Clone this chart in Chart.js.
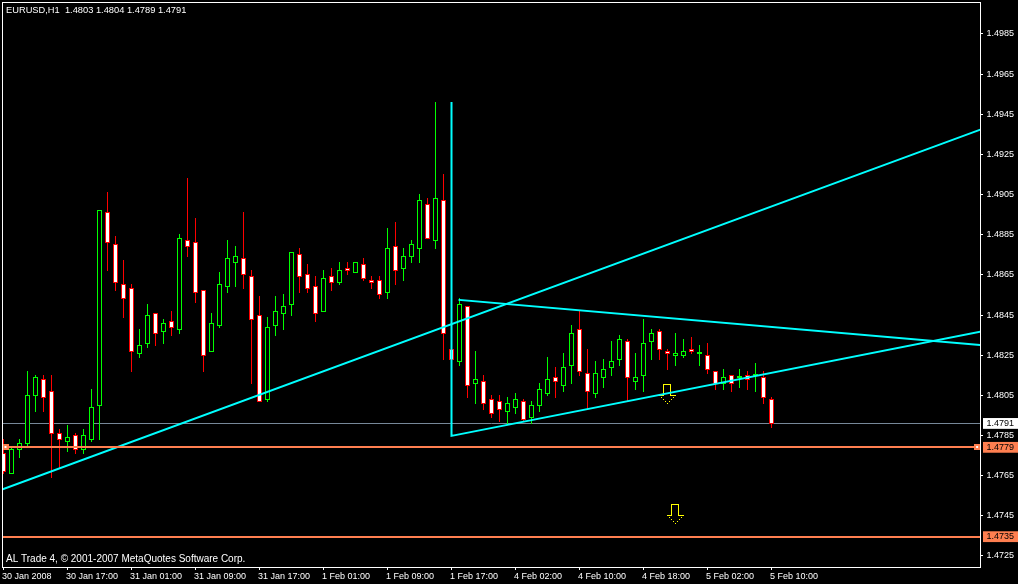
<!DOCTYPE html>
<html>
<head>
<meta charset="utf-8">
<title>EURUSD,H1</title>
<style>
  html, body { margin: 0; padding: 0; background: #000; overflow: hidden; }
  canvas { display: block; }
</style>
<script src="https://cdn.jsdelivr.net/npm/chart.js@4"></script>
</head>
<body>
<canvas id="chart" width="1018" height="584"></canvas>
<script>
// hourly bars
const opens = [1.4776,1.4766,1.4778,1.4781,1.4805,1.4813,1.4807,1.4786,1.4782,1.4785,1.4778,1.4783,1.4800,1.4896,1.4880,1.4860,1.4858,1.4826,1.4831,1.4846,1.4837,1.4842,1.4838,1.4882,1.4881,1.4857,1.4827,1.4840,1.4859,1.4871,1.4873,1.4864,1.4845,1.4803,1.4840,1.4846,1.4850,1.4875,1.4865,1.4859,1.4847,1.4864,1.4861,1.4868,1.4866,1.4870,1.4862,1.4862,1.4856,1.4879,1.4868,1.4874,1.4878,1.4900,1.4882,1.4902,1.4828,1.4822,1.4849,1.4811,1.4812,1.4803,1.4802,1.4797,1.4799,1.4802,1.4794,1.4800,1.4806,1.4814,1.4810,1.4820,1.4838,1.4816,1.4806,1.4814,1.4819,1.4823,1.4832,1.4812,1.4815,1.4832,1.4837,1.4827,1.4825,1.4825,1.4828,1.4826,1.4825,1.4817,1.4811,1.4815,1.4814,1.4815,1.4815,1.4814,1.4803];
const highs = [1.4783,1.4779,1.4783,1.4817,1.4815,1.4815,1.4815,1.4788,1.4790,1.4786,1.4788,1.4808,1.4897,1.4906,1.4884,1.4872,1.4860,1.4838,1.4850,1.4846,1.4843,1.4847,1.4885,1.4913,1.4893,1.4857,1.4846,1.4866,1.4882,1.4879,1.4896,1.4867,1.4854,1.4844,1.4854,1.4855,1.4876,1.4878,1.4870,1.4864,1.4867,1.4868,1.4871,1.4871,1.4871,1.4873,1.4864,1.4864,1.4888,1.4891,1.4878,1.4882,1.4905,1.4903,1.4951,1.4915,1.4836,1.4853,1.4849,1.4827,1.4815,1.4805,1.4805,1.4804,1.4806,1.4803,1.4802,1.4811,1.4824,1.4819,1.4826,1.4840,1.4847,1.4828,1.4822,1.4823,1.4832,1.4835,1.4833,1.4826,1.4843,1.4838,1.4838,1.4828,1.4836,1.4833,1.4834,1.4830,1.4831,1.4817,1.4818,1.4815,1.4818,1.4817,1.4821,1.4817,1.4804];
const lows = [1.4766,1.4766,1.4774,1.4780,1.4797,1.4797,1.4764,1.4769,1.4777,1.4776,1.4776,1.4782,1.4783,1.4867,1.4857,1.4844,1.4817,1.4824,1.4829,1.4830,1.4831,1.4835,1.4836,1.4874,1.4851,1.4817,1.4827,1.4839,1.4856,1.4859,1.4858,1.4811,1.4802,1.4802,1.4835,1.4838,1.4845,1.4856,1.4856,1.4842,1.4847,1.4857,1.4860,1.4865,1.4866,1.4862,1.4858,1.4853,1.4853,1.4860,1.4862,1.4871,1.4871,1.4883,1.4878,1.4823,1.4823,1.4820,1.4804,1.4801,1.4798,1.4794,1.4792,1.4791,1.4796,1.4792,1.4791,1.4797,1.4805,1.4804,1.4807,1.4811,1.4815,1.4798,1.4804,1.4809,1.4815,1.4820,1.4802,1.4808,1.4807,1.4823,1.4823,1.4818,1.4820,1.4824,1.4826,1.4820,1.4816,1.4808,1.4808,1.4807,1.4809,1.4808,1.4807,1.4801,1.4789];
const closes = [1.4767,1.4778,1.4781,1.4805,1.4814,1.4804,1.4786,1.4783,1.4784,1.4778,1.4785,1.4799,1.4897,1.4881,1.4861,1.4853,1.4827,1.4830,1.4845,1.4836,1.4841,1.4839,1.4883,1.4879,1.4856,1.4825,1.4841,1.4860,1.4873,1.4874,1.4865,1.4843,1.4802,1.4839,1.4847,1.4849,1.4876,1.4864,1.4858,1.4846,1.4863,1.4861,1.4867,1.4867,1.4871,1.4863,1.4861,1.4855,1.4878,1.4867,1.4874,1.4880,1.4902,1.4883,1.4903,1.4836,1.4823,1.4850,1.4810,1.4813,1.4801,1.4796,1.4798,1.4801,1.4803,1.4793,1.4800,1.4808,1.4813,1.4812,1.4819,1.4836,1.4817,1.4807,1.4816,1.4818,1.4822,1.4833,1.4814,1.4814,1.4831,1.4836,1.4828,1.4826,1.4826,1.4827,1.4827,1.4826,1.4818,1.4811,1.4814,1.4811,1.4814,1.4813,1.4815,1.4804,1.4791];

const timeLabels = ["30 Jan 2008","30 Jan 17:00","31 Jan 01:00","31 Jan 09:00","31 Jan 17:00","1 Feb 01:00","1 Feb 09:00","1 Feb 17:00","4 Feb 02:00","4 Feb 10:00","4 Feb 18:00","5 Feb 02:00","5 Feb 10:00"];
const labelStep = 8;
const priceTicks = [1.4985,1.4965,1.4945,1.4925,1.4905,1.4885,1.4865,1.4845,1.4825,1.4805,1.4785,1.4765,1.4745,1.4725];

const lastPrice = 1.4791;
const levels = [1.47791, 1.47346];
const titleText = "EURUSD,H1  1.4803 1.4804 1.4789 1.4791";
const footerText = "AL Trade 4, \u00a9 2001-2007 MetaQuotes Software Corp.";

// trend lines as [bar, price]
const riseLine = [[0, 1.47584], [122, 1.49372]];
const wedgeLower = [[56, 1.49506], [56, 1.47848], [122, 1.48366]];
const wedgeUpper = [[57, 1.48525], [122, 1.48301]];
const arrowMarks = [[83, 1.48057], [84, 1.47459]];
const levelMarks = [[0.25, 1.47791], [121.7, 1.47791]];

const X_MIN = -0.0625, X_MAX = 122.0625;
const Y_MIN = 1.47195, Y_MAX = 1.50004;

const GREEN = "#00ff00", RED = "#ff0000", CYAN = "#00ffff", CORAL = "#ff7f50", SLATE = "#778899", YELLOW = "#ffff00";
const FONT = "'Liberation Sans', Arial, sans-serif";
const FONT_SIZE = 9;

const isUp = i => closes[i] >= opens[i];
const xy = p => ({ x: p[0], y: p[1] });

// yellow down arrow used as a point style, thin shaft and dotted head
function arrowGlyph() {
    const c = document.createElement("canvas");
    c.width = 17; c.height = 20;
    const g = c.getContext("2d");
    g.fillStyle = YELLOW;
    g.fillRect(4, 0, 8, 1);
    g.fillRect(4, 0, 1, 12);
    g.fillRect(11, 0, 1, 12);
    g.fillRect(0, 11, 5, 1);
    g.fillRect(11, 11, 6, 1);
    for (let k = 0; k <= 8; k += 2) {
        g.fillRect(k, 11 + k, 1, 1);
        g.fillRect(16 - k, 11 + k, 1, 1);
    }
    return c;
}

// small handle at the ends of the horizontal line
function handleGlyph() {
    const c = document.createElement("canvas");
    c.width = 6; c.height = 6;
    const g = c.getContext("2d");
    g.fillStyle = CORAL;
    g.fillRect(0, 0, 6, 6);
    g.fillStyle = "#fff";
    g.fillRect(2, 2, 2, 2);
    return c;
}

function hLine(price, color, width, order) {
    return {
        type: "line",
        data: [{ x: X_MIN, y: price }, { x: X_MAX, y: price }],
        borderColor: color, borderWidth: width, pointRadius: 0, order: order, snap: true
    };
}

function trendLine(points) {
    return {
        type: "line",
        data: points.map(xy),
        borderColor: CYAN, borderWidth: 2, pointRadius: 0, order: 3,
        borderCapStyle: "square", borderJoinStyle: "miter"
    };
}

const wicks = {
    type: "bar",
    data: opens.map((_, i) => ({ x: i, y: [lows[i], highs[i]] })),
    backgroundColor: opens.map((_, i) => isUp(i) ? GREEN : RED),
    barThickness: 1, borderWidth: 0, inflateAmount: 0,
    grouped: false, order: 6, snap: true
};

const bodies = {
    type: "bar",
    data: opens.map((o, i) => ({ x: i, y: [Math.min(o, closes[i]), Math.max(o, closes[i])] })),
    backgroundColor: opens.map((_, i) => isUp(i) ? "#000" : "#fff"),
    borderColor: opens.map((_, i) => isUp(i) ? GREEN : RED),
    barThickness: 5, borderWidth: 1, borderSkipped: false, inflateAmount: 0, minBarLength: 1,
    grouped: false, order: 5, snap: true
};

// keep the marks on whole pixels, like the original terminal does.
// a bar covers both its end rows, so a doji is still one row tall
const snapPlugin = {
    id: "snap",
    afterDatasetsUpdate(chart) {
        chart.data.datasets.forEach((ds, i) => {
            if (!ds.snap) return;
            chart.getDatasetMeta(i).data.forEach(el => {
                if (ds.type === "bar") {
                    const top = Math.floor(Math.min(el.y, el.base));
                    const bottom = Math.floor(Math.max(el.y, el.base));
                    el.y = top;
                    el.base = bottom + 1;
                } else {
                    el.y = Math.round(el.y) + (ds.borderWidth === 1 ? 0.5 : 0);
                }
            });
        });
    }
};

const framePlugin = {
    id: "frame",
    afterDraw(chart) {
        const a = chart.chartArea, ctx = chart.ctx;
        ctx.save();
        ctx.strokeStyle = "#fff";
        ctx.lineWidth = 1;
        ctx.strokeRect(a.left - 0.5, a.top - 0.5, a.right - a.left + 1, a.bottom - a.top + 1);
        ctx.fillStyle = "#fff";
        ctx.textBaseline = "middle";
        ctx.font = "9.3px " + FONT;
        ctx.fillText(titleText, 6, 10);
        ctx.font = "10px " + FONT;
        ctx.fillText(footerText, 6, 559);
        ctx.restore();
    }
};

const noPadding = s => { s.paddingLeft = s.paddingRight = s.paddingTop = s.paddingBottom = 0; };

new Chart(document.getElementById("chart"), {
    data: {
        datasets: [
            hLine(lastPrice, SLATE, 1, 7),
            wicks,
            bodies,
            { type: "line", data: arrowMarks.map(xy), showLine: false, pointStyle: arrowGlyph(), pointRadius: 1, order: 4, snap: true },
            trendLine(riseLine),
            trendLine(wedgeLower),
            trendLine(wedgeUpper),
            hLine(levels[0], CORAL, 2, 2),
            hLine(levels[1], CORAL, 2, 2),
            { type: "line", data: levelMarks.map(xy), showLine: false, pointStyle: handleGlyph(), pointRadius: 1, order: 1, snap: true }
        ]
    },
    options: {
        responsive: false,
        animation: false,
        devicePixelRatio: 1,
        layout: { autoPadding: false, padding: { left: 3, top: 3, right: 0, bottom: 0 } },
        plugins: { legend: { display: false }, tooltip: { enabled: false } },
        scales: {
            x: {
                type: "linear",
                offset: false,
                min: X_MIN,
                max: X_MAX,
                afterFit: s => { s.height = 17; noPadding(s); },
                afterBuildTicks: s => { s.ticks = timeLabels.map((_, i) => ({ value: i * labelStep })); },
                border: { display: false },
                grid: { offset: false, drawOnChartArea: false, tickLength: 3, tickColor: "#fff" },
                ticks: {
                    autoSkip: false,
                    maxRotation: 0,
                    align: "start",
                    labelOffset: -1.5,
                    padding: 1,
                    color: "#fff",
                    font: { family: FONT, size: FONT_SIZE },
                    callback: v => timeLabels[v / labelStep]
                }
            },
            y: {
                type: "linear",
                position: "right",
                min: Y_MIN,
                max: Y_MAX,
                afterFit: s => { s.width = 38; noPadding(s); },
                afterBuildTicks: s => {
                    s.ticks = priceTicks.concat([lastPrice], levels).map(v => ({ value: v }));
                },
                border: { display: false },
                grid: {
                    drawOnChartArea: false,
                    tickLength: 3,
                    tickColor: c => priceTicks.includes(c.tick.value) ? "#fff" : "transparent"
                },
                ticks: {
                    autoSkip: false,
                    padding: 3.5,
                    font: { family: FONT, size: FONT_SIZE },
                    color: c => priceTicks.includes(c.tick.value) ? "#fff" : "#000",
                    showLabelBackdrop: c => !priceTicks.includes(c.tick.value),
                    backdropColor: c => c.tick.value === lastPrice ? "#fff" : CORAL,
                    backdropPadding: { left: 3.5, right: 4, top: 0, bottom: 0 },
                    callback: v => v.toFixed(4)
                }
            }
        }
    },
    plugins: [snapPlugin, framePlugin]
});
</script>
</body>
</html>
